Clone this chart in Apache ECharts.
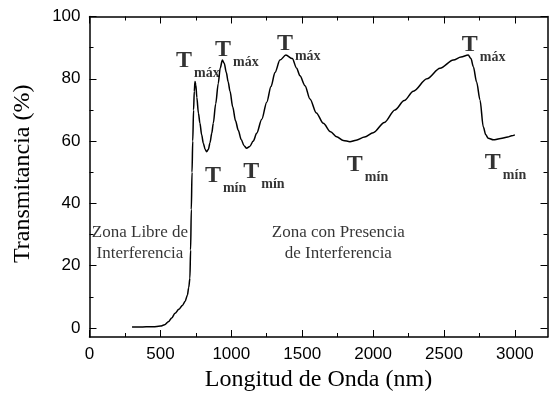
<!DOCTYPE html>
<html>
<head>
<meta charset="utf-8">
<script src="https://cdn.jsdelivr.net/npm/echarts@6/dist/echarts.min.js"></script>
<style>
  html, body { margin: 0; padding: 0; background: #fff; }
  #chart { width: 549px; height: 406px; }
</style>
</head>
<body>
<div id="chart"></div>
<script>
// transmittance spectrum
const wavelength = [300, 350, 400, 450, 500, 530, 556, 580, 603, 630, 655, 674, 690, 700, 708,
  713, 718, 723, 728, 734, 739, 744, 750, 757, 768, 779, 791, 803, 815, 826, 838, 850, 862,
  873, 890, 908, 922, 937, 950, 965, 978, 991, 1010, 1030, 1049, 1070, 1090, 1108, 1130,
  1155, 1179, 1215, 1250, 1280, 1308, 1343, 1385, 1430, 1461, 1484, 1520, 1555, 1600, 1649, 1700,
  1743, 1790, 1837, 1880, 1940, 2001, 2080, 2154, 2220, 2284, 2380, 2472, 2566, 2620, 2671,
  2690, 2707, 2730, 2754, 2777, 2795, 2812, 2848, 2900, 2950, 2977, 3000];
const transmittance = [0.3, 0.3, 0.4, 0.4, 0.6, 1.0, 2.0, 3.2, 4.7, 6.0, 7.2, 8.5, 10.5, 13, 16,
  25, 38, 50, 60, 70, 76, 79.1, 78, 74, 69, 65.7, 62, 59.3, 57.4, 56.6, 57.3, 59.5, 62.5,
  65.7, 72, 78.5, 83.5, 86, 85, 82, 79, 76, 71, 66.5, 63.5, 60.5, 58.5, 57.7, 58.3,
  60, 62.5, 67, 72.5, 77.5, 82, 86, 87.6, 86.5, 83.4, 81, 77.8, 73.5, 69, 65.7, 63,
  61.4, 60.2, 59.8, 60.3, 61.3, 62.7, 66, 70, 73, 76, 80, 83.4, 86, 87, 87.6,
  86.5, 83.9, 79, 73.2, 64.6, 62, 60.9, 60.4, 60.8, 61.3, 61.7, 62];

const xTicks = [0, 500, 1000, 1500, 2000, 2500, 3000];
const xMinor = [250, 750, 1250, 1750, 2250, 2750];
const yTicks = [0, 20, 40, 60, 80, 100];
const yMinor = [10, 30, 50, 70, 90];

// T max / T min markers (top-left of each label)
const markX = [610, 885, 1322, 2626, 814, 1084, 1815, 2788];
const markY = [87.3, 90.8, 92.7, 92.4, 50.4, 51.6, 53.9, 54.6];
const markSub = ['máx', 'máx', 'máx', 'máx', 'mín', 'mín', 'mín', 'mín'];

const zoneX = [356, 1755];
const zoneY = [27.3, 27.3];
const zoneText = ['Zona Libre de\nInterferencia', 'Zona con Presencia\nde Interferencia'];

const xMin = 0, xMax = 3230, yMin = -2.9, yMax = 100;
const serif = 'Liberation Serif';

function axis(grid, pos, min, max, ticks, len, withLabels) {
  return {
    type: 'value', gridIndex: grid, position: pos, min: min, max: max,
    axisLine: { show: grid === 0, onZero: false, lineStyle: { color: '#000', width: 1.5 } },
    axisTick: { show: true, inside: true, length: len, customValues: ticks,
      lineStyle: { color: '#000', width: 1 } },
    axisLabel: { show: withLabels, customValues: ticks, color: '#000',
      fontFamily: 'Liberation Sans', fontSize: 17, margin: 9,
      formatter: v => String(v) },
    splitLine: { show: false }
  };
}

const xMain = axis(0, 'bottom', xMin, xMax, xTicks, 7, true);
xMain.name = 'Longitud de Onda (nm)';
xMain.nameLocation = 'middle';
xMain.nameGap = 29;
xMain.nameTextStyle = { fontFamily: serif, fontSize: 24, color: '#000' };

const yMain = axis(0, 'left', yMin, yMax, yTicks, 7, true);
yMain.name = 'Transmitancia (%)';
yMain.nameLocation = 'middle';
yMain.nameGap = 55;
yMain.nameTextStyle = { fontFamily: serif, fontSize: 24, color: '#000', padding: [0, 0, 0, 6] };

const box = { left: 89.5, right: 1.5, top: 16.5, bottom: 69 };

const chart = echarts.init(document.getElementById('chart'));
chart.setOption({
  animation: false,
  backgroundColor: '#fff',
  grid: [box, box],
  xAxis: [
    xMain,
    axis(0, 'top', xMin, xMax, xTicks, 7, false),
    axis(1, 'bottom', xMin, xMax, xMinor, 4, false),
    axis(1, 'top', xMin, xMax, xMinor, 4, false)
  ],
  yAxis: [
    yMain,
    axis(0, 'right', yMin, yMax, yTicks, 7, false),
    axis(1, 'left', yMin, yMax, yMinor, 4, false),
    axis(1, 'right', yMin, yMax, yMinor, 4, false)
  ],
  series: [
    {
      type: 'line',
      data: wavelength.map((w, i) => [w, transmittance[i]]),
      showSymbol: false,
      smooth: 0.3,
      smoothMonotone: 'x',
      lineStyle: { color: '#000', width: 1.5 }
    },
    {
      type: 'scatter',
      symbolSize: 0,
      data: markX.map((x, i) => [x, markY[i]]),
      label: {
        show: true,
        position: [0, 0],
        align: 'left',
        verticalAlign: 'top',
        formatter: p => '{t|T}{s|' + markSub[p.dataIndex] + '}',
        rich: {
          t: { fontFamily: serif, fontWeight: 'bold', fontSize: 24, lineHeight: 24,
               color: '#000', padding: [0, 0, 14, 0] },
          s: { fontFamily: serif, fontWeight: 'bold', fontSize: 14, lineHeight: 14,
               color: '#000', verticalAlign: 'bottom', padding: [0, 0, 0, 2] }
        }
      }
    },
    {
      type: 'scatter',
      symbolSize: 0,
      data: zoneX.map((x, i) => [x, zoneY[i]]),
      label: {
        show: true,
        position: 'inside',
        formatter: p => zoneText[p.dataIndex],
        fontFamily: serif,
        fontSize: 17,
        lineHeight: 21,
        color: '#000'
      }
    }
  ]
});
</script>
</body>
</html>
